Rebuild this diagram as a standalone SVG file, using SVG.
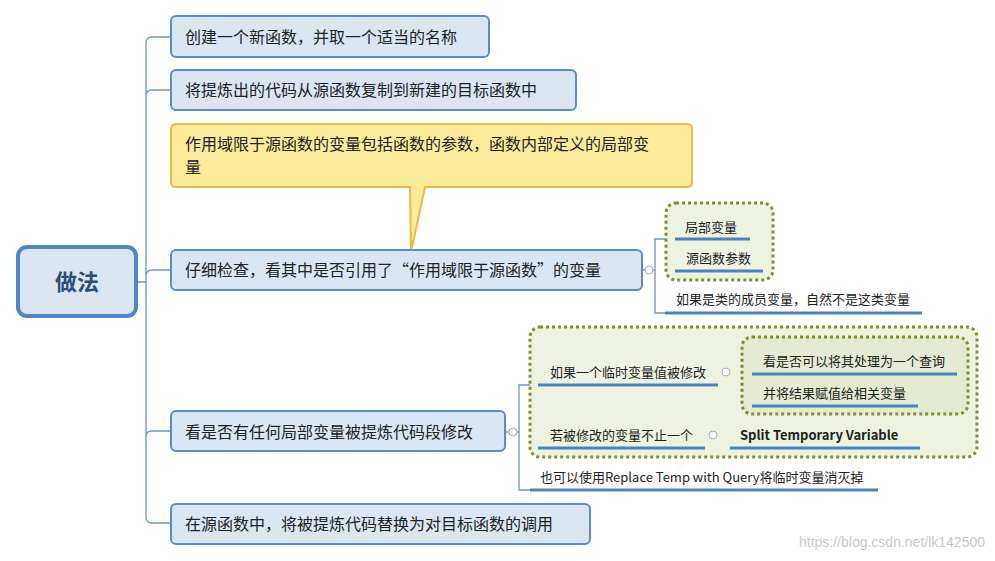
<svg xmlns="http://www.w3.org/2000/svg" width="995" height="561" viewBox="0 0 995 561">
<style>
.n{fill:#dce6f2;stroke:#5b8bc9;stroke-width:2}
.t{font-family:"Noto Sans CJK SC","Liberation Sans",sans-serif;font-size:16px;fill:#222}
.s{font-family:"Noto Sans CJK SC","Liberation Sans",sans-serif;font-size:13px;fill:#222}
.u{stroke:#4f81bd;stroke-width:3}
.c{fill:none;stroke:#6f95c4;stroke-width:1.3}
.d{stroke:#7f8f2f;stroke-width:3;stroke-dasharray:3 3}
.k{fill:#fff;stroke:#aab;stroke-width:1}
</style>
<rect width="995" height="561" fill="#fff"/>
<g id="connectors" class="c">
<path d="M136 282 H146 M171 37 H152 Q146 37 146 43 V517 Q146 523 152 523 H171 M171 90 H152 Q146 90 146 96 M171 270 H152 Q146 270 146 276 M171 431 H152 Q146 431 146 437"/>
<path d="M642 270 H655 M675 239 H655 V313 H665"/>
<path d="M505 432 H519 M538 385 H519 V490 H530"/>
<path d="M718 385 Q735 385 742 378 Q746 374 752 374 M718 385 Q735 385 742 396 Q746 406 752 406"/>
<path d="M705 448 H730"/>
</g>
<g id="groups">
<rect x="530" y="327" width="447" height="130" rx="10" fill="#eef2e0" class="d"/>
<rect x="742" y="337" width="226" height="77" rx="10" fill="#e4ebd2" class="d"/>
<rect x="666" y="203" width="107" height="77" rx="10" fill="#eef2e0" class="d"/>
</g>
<g id="root"><rect x="18" y="247" width="118" height="69" rx="9" fill="#dce6f2" stroke="#4f86c6" stroke-width="4"/>
<text x="77" y="290" text-anchor="middle" font-family="Noto Sans CJK SC,sans-serif" font-size="22" font-weight="bold" fill="#2d4e78">做法</text></g>
<g id="n1"><rect class="n" x="171" y="16" width="318" height="41" rx="5"/><text class="t" x="185" y="43">创建一个新函数，并取一个适当的名称</text></g>
<g id="n2"><rect class="n" x="171" y="70" width="405" height="40" rx="5"/><text class="t" x="185" y="96">将提炼出的代码从源函数复制到新建的目标函数中</text></g>
<g id="callout"><path d="M176 124 H687 Q692 124 692 129 V182 Q692 187 687 187 H425 L411 252 L410 187 H176 Q171 187 171 182 V129 Q171 124 176 124 Z" fill="#fbeb9a" stroke="#e8b94b" stroke-width="2"/>
<text class="t" x="185" y="150">作用域限于源函数的变量包括函数的参数，函数内部定义的局部变</text><text class="t" x="185" y="173">量</text></g>
<g id="n3"><rect class="n" x="171" y="250" width="471" height="40" rx="5"/><text class="t" x="185" y="276">仔细检查，看其中是否引用了“作用域限于源函数”的变量</text><circle class="k" cx="649" cy="270" r="4"/></g>
<g id="n3a"><text class="s" x="685" y="232">局部变量</text><line class="u" x1="675" y1="239" x2="750" y2="239"/></g>
<g id="n3b"><text class="s" x="686" y="263">源函数参数</text><line class="u" x1="675" y1="271" x2="763" y2="271"/></g>
<g id="n3c"><text class="s" x="676" y="304">如果是类的成员变量，自然不是这类变量</text><line class="u" x1="665" y1="313" x2="922" y2="313"/></g>
<g id="n4"><rect class="n" x="171" y="411" width="334" height="40" rx="5"/><text class="t" x="185" y="438">看是否有任何局部变量被提炼代码段修改</text><circle class="k" cx="513" cy="432" r="4"/></g>
<g id="n4a"><text class="s" x="550" y="377">如果一个临时变量值被修改</text><line class="u" x1="538" y1="385" x2="718" y2="385"/><circle class="k" cx="726" cy="372" r="4"/></g>
<g id="n4a1"><text class="s" x="763" y="366">看是否可以将其处理为一个查询</text><line class="u" x1="752" y1="374" x2="957" y2="374"/></g>
<g id="n4a2"><text class="s" x="763" y="398">并将结果赋值给相关变量</text><line class="u" x1="752" y1="406" x2="918" y2="406"/></g>
<g id="n4b"><text class="s" x="550" y="440">若被修改的变量不止一个</text><line class="u" x1="538" y1="448" x2="705" y2="448"/><circle class="k" cx="713" cy="435" r="4"/></g>
<g id="n4b1"><text class="s" x="740" y="440" font-weight="bold">Split Temporary Variable</text><line class="u" x1="730" y1="448" x2="920" y2="448"/></g>
<g id="n4c"><text class="s" x="540" y="482">也可以使用Replace Temp with Query将临时变量消灭掉</text><line class="u" x1="530" y1="490" x2="878" y2="490"/></g>
<g id="n5"><rect class="n" x="171" y="504" width="419" height="40" rx="5"/><text class="t" x="185" y="530">在源函数中，将被提炼代码替换为对目标函数的调用</text></g>
<text x="985" y="547" text-anchor="end" font-family="Liberation Sans,sans-serif" font-size="14" fill="#c8c8c8">https://blog.csdn.net/lk142500</text>
</svg>
